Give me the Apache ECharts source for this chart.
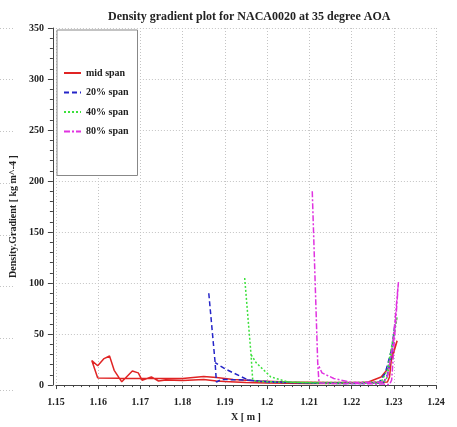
<!DOCTYPE html>
<html>
<head>
<meta charset="utf-8">
<script src="https://cdn.jsdelivr.net/npm/echarts@6/dist/echarts.min.js"></script>
<style>html,body{margin:0;padding:0;background:#fff;}#c{width:457px;height:427px;}</style>
</head>
<body>
<div id="c"></div>
<script>
var seriesNames = ['mid span', '20% span', '40% span', '80% span'];

var midSpanX = [1.1599, 1.1585, 1.1599, 1.1614, 1.1627, 1.1638, 1.1656, 1.1681, 1.1695, 1.1704, 1.1726, 1.1743, 1.176, 1.18, 1.185, 1.188, 1.19, 1.195, 1.2, 1.21, 1.22, 1.224, 1.227, 1.229, 1.2308, 1.2295, 1.229, 1.2285, 1.225, 1.215, 1.205, 1.198, 1.192, 1.188, 1.185, 1.18, 1.17, 1.1599];
var midSpanY = [7, 24, 19, 26, 28.5, 14.5, 3.2, 13.8, 12, 4.8, 8, 4, 5, 4.5, 5.5, 4, 3.5, 2.5, 2, 1.5, 1.8, 3, 8, 18, 43.5, 28, 8, 3, 2.5, 2.5, 3, 4, 5.5, 7.5, 8.5, 6.5, 6.5, 7];

var span20X = [1.1862, 1.1877, 1.188, 1.1892, 1.195, 1.2, 1.21, 1.22, 1.2275, 1.2285, 1.2295, 1.2303, 1.2295, 1.228, 1.2265, 1.22, 1.21, 1.2, 1.1955, 1.19, 1.1877];
var span20Y = [90, 22, 3, 5.5, 5, 3.5, 2, 1.5, 2, 10, 30, 60, 35, 12, 2.5, 2, 2, 3, 5, 16, 22];

var span40X = [1.1947, 1.1962, 1.1966, 1.198, 1.21, 1.22, 1.227, 1.2285, 1.2298, 1.2308, 1.2295, 1.2285, 1.2275, 1.215, 1.205, 1.2009, 1.1974, 1.1962];
var span40Y = [105, 30, 5, 3.5, 2.5, 2.5, 3, 15, 45, 67, 35, 8, 2, 1.5, 3, 8, 22, 30];

var span80X = [1.2107, 1.212, 1.2123, 1.216, 1.222, 1.2275, 1.229, 1.2295, 1.2311, 1.2298, 1.2285, 1.2275, 1.22, 1.2158, 1.213, 1.212];
var span80Y = [190, 21, 2, 1.5, 1.5, 1, 0.5, 5, 101, 40, 8, 3, 2.5, 6.5, 12, 21];

var xTicks = [1.15, 1.16, 1.17, 1.18, 1.19, 1.2, 1.21, 1.22, 1.23, 1.24];
var yTicks = [0, 50, 100, 150, 200, 250, 300, 350];

function pairs(xs, ys) { return xs.map(function (x, i) { return [x, ys[i]]; }); }

var FONT = '"Liberation Serif", "Times New Roman", serif';
var colors = ['#e02424', '#2424c8', '#3ce03c', '#e033e0'];
var dashes = ['solid', [5, 3], [2, 2], [6, 2, 2, 2]];
var datas = [pairs(midSpanX, midSpanY), pairs(span20X, span20Y), pairs(span40X, span40Y), pairs(span80X, span80Y)];
var GRIDLINE = {color: '#c4c4c4', type: [1, 2], width: 1};

var chart = echarts.init(document.getElementById('c'), null, {renderer: 'canvas'});
chart.setOption({
  animation: false,
  backgroundColor: '#fff',
  title: {
    text: 'Density gradient plot for NACA0020 at 35 degree AOA',
    left: 103, top: 6,
    textStyle: {fontFamily: FONT, fontSize: 12, fontWeight: 'bold', color: '#222'}
  },
  legend: {
    orient: 'vertical',
    left: 57, top: 30,
    padding: [38, 9, 39, 6],
    itemWidth: 17, itemHeight: 10, itemGap: 9.5,
    backgroundColor: '#fff',
    borderColor: '#888', borderWidth: 1,
    itemStyle: {color: 'transparent', borderWidth: 0, opacity: 0},
    textStyle: {fontFamily: FONT, fontSize: 10, fontWeight: 'bold', color: '#222'},
    data: seriesNames
  },
  grid: [
    {left: 54, right: 21, top: 28, bottom: 37, containLabel: false},
    {left: 0, width: 15, top: 28, bottom: 37, containLabel: false}
  ],
  xAxis: [{
    type: 'value', min: xTicks[0], max: xTicks[xTicks.length - 1], interval: 0.01,
    offset: 4,
    name: 'X [ m ]', nameLocation: 'middle', nameGap: 22,
    nameTextStyle: {fontFamily: FONT, fontSize: 10, fontWeight: 'bold', color: '#222'},
    axisLine: {show: true, lineStyle: {color: '#444', width: 1}},
    axisTick: {show: true, length: 4, inside: false, lineStyle: {color: '#444'}},
    minorTick: {show: true, splitNumber: 5, length: 2, lineStyle: {color: '#444'}},
    axisLabel: {margin: 8, fontFamily: FONT, fontSize: 10, fontWeight: 'bold', color: '#222',
      formatter: function (v) { return String(parseFloat(v.toFixed(2))); }},
    splitLine: {show: true, lineStyle: GRIDLINE}
  }, {
    gridIndex: 1, type: 'value', min: 0, max: 1, show: false
  }],
  yAxis: [{
    type: 'value', min: yTicks[0], max: yTicks[yTicks.length - 1], interval: 50,
    offset: 3,
    name: 'Density.Gradient [ kg m^-4 ]', nameLocation: 'middle', nameGap: 26,
    nameTextStyle: {fontFamily: FONT, fontSize: 10, fontWeight: 'bold', color: '#222', padding: [0, 20, 0, 0]},
    axisLine: {show: true, lineStyle: {color: '#444', width: 1}},
    axisTick: {show: true, length: 5, inside: false, lineStyle: {color: '#444'}},
    minorTick: {show: true, splitNumber: 5, length: 3, lineStyle: {color: '#444'}},
    axisLabel: {margin: 9, fontFamily: FONT, fontSize: 10, fontWeight: 'bold', color: '#222'},
    splitLine: {show: true, lineStyle: GRIDLINE}
  }, {
    gridIndex: 1, type: 'value', min: yTicks[0], max: yTicks[yTicks.length - 1], interval: 50,
    axisLine: {show: false}, axisTick: {show: false}, axisLabel: {show: false},
    splitLine: {show: true, lineStyle: GRIDLINE}
  }],
  series: seriesNames.map(function (n, i) {
    return {
      name: n, type: 'line', data: datas[i],
      showSymbol: false, symbol: 'none', smooth: false,
      color: colors[i],
      lineStyle: {color: colors[i], width: 1.5, type: dashes[i]},
      z: 3 + i
    };
  })
});
</script>
</body>
</html>
